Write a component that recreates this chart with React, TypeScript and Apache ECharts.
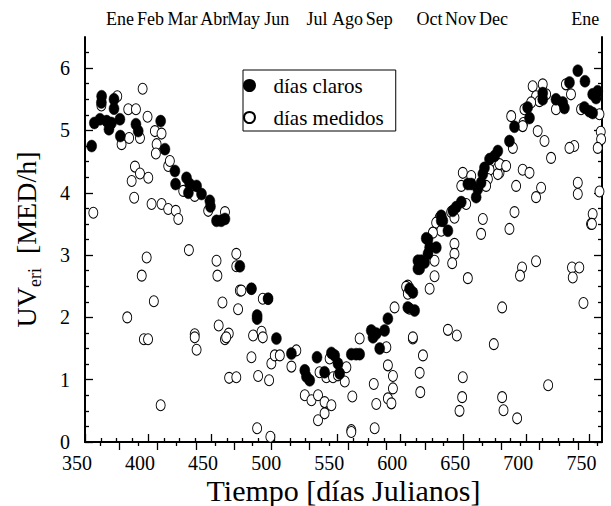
import React, { useEffect, useRef } from "react";
import * as echarts from "echarts";

// ---- data (Julian day, UV erythemal [MED/h]) ----
const clearSky: number[][] = [
  [355.3, 4.75], [357.4, 5.12], [361.9, 5.18], [363.2, 5.55], [363, 5.45], [367.2, 5.15], [369, 5.02],
  [371, 5.12], [373, 5.5], [373, 5.35], [377.7, 5.18], [378, 4.91], [390.4, 5.1], [392.2, 4.99],
  [410, 5.15], [413.4, 4.7], [421.3, 4.35], [421.8, 4.14], [430.5, 4.24], [433, 4.14], [432, 4.0],
  [438.5, 4.11], [442.4, 3.98], [449, 3.87], [449.5, 3.78], [454.3, 3.55], [458, 3.55], [461, 3.58],
  [472.8, 2.82], [482, 2.46], [495.2, 2.3], [486.5, 2.03], [486.5, 1.98], [501.8, 1.66], [513.7, 1.42],
  [524.3, 1.15], [525.6, 1.05], [528.2, 0.99], [534, 1.36], [540, 1.12], [545.4, 1.43], [548, 1.39],
  [550.6, 1.26], [552, 1.1], [561.2, 1.41], [565, 1.41], [567.8, 1.41], [577, 1.79], [578.4, 1.68],
  [581, 1.74], [587.6, 1.79], [583.7, 1.5], [590.2, 1.98], [607.4, 2.46], [610, 2.4], [606, 2.16],
  [611.4, 2.11], [614, 2.91], [614, 2.78], [615.4, 2.78], [616.7, 2.91], [619.3, 2.88], [622, 3.02],
  [622, 3.25], [623.3, 3.12], [628.6, 3.12], [620.6, 3.27], [632.5, 3.55], [637.8, 3.39], [632.5, 3.63],
  [633.8, 3.55], [641.7, 3.71], [644.4, 3.77], [648.4, 3.85], [653.6, 4.14], [656.3, 4.14], [660.2, 3.93],
  [661.5, 4.06], [664.1, 4.16], [665.5, 4.3], [666.8, 4.4], [670.8, 4.54], [674.8, 4.59], [677.4, 4.67],
  [686.6, 4.83], [690.6, 5.06], [701, 5.37], [702.5, 5.2], [713, 5.6], [713, 5.5], [723.5, 5.5],
  [728.8, 5.45], [730.2, 5.36], [734.2, 5.77], [740.8, 5.96], [746.5, 5.79], [746, 5.37], [750, 5.31],
  [752.6, 5.28], [755.3, 5.52], [756.6, 5.63], [752.6, 5.58],
];

const measured: number[][] = [
  [356.6, 3.68], [363, 5.4], [375.6, 5.55], [379, 4.78], [384.3, 5.34], [385, 4.88], [390.4, 5.34],
  [393.6, 4.88], [395.7, 5.67], [389.6, 4.42], [393.6, 4.31], [400.2, 4.24], [387, 4.19], [389, 3.92],
  [399.6, 5.22], [405.4, 4.99], [406.8, 4.78], [406.2, 4.63], [410.7, 4.95], [402.8, 3.82], [410.7, 3.82],
  [416, 3.74], [416, 4.43], [417.3, 4.51], [422, 3.71], [424, 3.58], [427.9, 4.03], [437, 3.95],
  [447.7, 3.71], [461, 3.69], [383.5, 2.0], [395, 2.67], [398.9, 2.96], [396.7, 1.65], [400, 1.65],
  [404.6, 2.26], [410, 0.59], [432.4, 3.08], [437, 1.73], [437, 1.68], [438.5, 1.48], [454.3, 2.91],
  [455, 2.67], [459, 2.24], [456, 1.87], [464, 1.74], [461, 1.65], [464.3, 1.03], [470, 1.04],
  [470, 3.02], [470, 2.82], [472.8, 2.43], [471.4, 2.13], [474, 2.43], [491, 2.3], [483.3, 1.71],
  [490, 1.77], [491, 1.68], [462, 1.68], [482, 1.36], [487.3, 1.06], [496, 0.99], [497.8, 1.26],
  [500.5, 1.39], [504.5, 1.39], [513.7, 1.21], [517.6, 1.47], [524.3, 0.75], [529.6, 0.67], [534.8, 0.75],
  [540, 0.64], [545.4, 0.59], [534.8, 0.35], [540, 0.46], [486.5, 0.22], [497, 0.085], [561.2, 0.19],
  [561.2, 0.16], [579.7, 0.22], [562, 0.73], [579, 0.93], [581, 0.61], [590.2, 0.7], [593, 0.62],
  [590.2, 1.23], [594.2, 1.06], [594.2, 0.86], [544, 1.34], [557.3, 1.2], [556, 0.97], [536, 1.12],
  [541.4, 1.04], [546.7, 1.04], [550.6, 1.07], [567.8, 1.66], [595.5, 2.16], [606, 2.51], [610, 1.66],
  [589, 1.52], [482, 2.46], [495.2, 2.3], [705, 5.71], [713, 5.74], [715.7, 5.58], [707.7, 5.55],
  [710.4, 5.47], [703.8, 5.45], [698.5, 5.34], [697.7, 5.12], [688, 5.23], [723.5, 5.34], [731.4, 5.74],
  [735.4, 5.58], [743.4, 5.34], [758, 5.26], [759, 4.98], [759.3, 4.86], [756.6, 4.72], [758, 4.02],
  [709, 4.99], [714.4, 4.83], [719.6, 4.56], [738, 4.75], [734.2, 4.72], [697.1, 5.07], [689.3, 4.72],
  [682.7, 4.43], [678.7, 4.32], [677.4, 4.4], [670.8, 4.37], [697.1, 4.37], [702.5, 4.32], [691.9, 4.11],
  [711.7, 4.08], [707.7, 3.93], [740.8, 4.16], [740.8, 3.98], [752.6, 3.66], [751.3, 3.5], [690.6, 3.69],
  [686.6, 3.42], [665.5, 3.58], [664.1, 3.34], [649.6, 4.32], [656.3, 4.27], [648.4, 4.11], [669.5, 4.22],
  [668.1, 4.11], [677.4, 4.3], [678.7, 4.46], [684, 4.43], [631.2, 3.6], [628.5, 3.52], [640.4, 3.69],
  [643, 3.6], [652.3, 3.82], [632.5, 3.39], [625.9, 3.36], [643, 3.18], [643, 3.02], [641.2, 2.87],
  [627.2, 2.91], [627.2, 2.66], [623.3, 2.46], [653.6, 2.63], [696.6, 2.8], [695, 2.67], [707.7, 2.9],
  [736.2, 2.8], [742, 2.8], [736.8, 2.64], [745.3, 2.23], [752, 3.5], [604.7, 2.49], [606, 2.38],
  [607.4, 2.14], [610, 1.68], [618, 1.39], [615.4, 1.11], [615.9, 0.8], [637.8, 1.8], [644.9, 1.71],
  [649.6, 1.04], [649.1, 0.72], [647, 0.5], [680.8, 2.16], [674.2, 1.57], [680.8, 0.72], [681.9, 0.51],
  [692.7, 0.38], [717.3, 0.91],
];

const xTickValues = [350, 400, 450, 500, 550, 600, 650, 700, 750];
const yTickValues = [0, 1, 2, 3, 4, 5, 6];
const monthNames = ["Ene", "Feb", "Mar", "Abr", "May", "Jun", "Jul", "Ago", "Sep", "Oct", "Nov", "Dec", "Ene"];
const monthLabelDays = [377.7, 401.9, 427.3, 452.5, 475.8, 502.1, 534, 558.1, 583.3, 623.3, 647.8, 674, 746.8];
const monthTickDays = [377, 407.5, 438, 468, 498, 528, 558.5, 589, 619.5, 650, 680, 710.5, 741];
const monthMidDays = [362, 392.5, 422.5, 453, 483, 513, 543.5, 574, 604, 634.5, 665, 695.5, 726, 756];

const X_MIN = 350;
const X_MAX = 760;
const Y_MIN = 0;
const Y_MAX = 6.5;

const minorValues = (lo: number, hi: number, step: number, major: number) => {
  const out: number[] = [];
  for (let v = lo + step; v < hi - 1e-9; v += step) {
    const r = v / major;
    if (Math.abs(r - Math.round(r)) > 1e-6) out.push(Number(v.toFixed(4)));
  }
  return out;
};

const FONT = "Liberation Serif";
const ELLIPSE = "path://M0,-1A1,1 0 1 1 0,1A1,1 0 1 1 0,-1Z";

export default function App() {
  const ref = useRef<HTMLDivElement>(null);

  useEffect(() => {
    const chart = echarts.init(ref.current!, null, { renderer: "svg" });
    const xMinor = minorValues(X_MIN, X_MAX, 12.5, 50);
    const yMinor = minorValues(Y_MIN, Y_MAX, 0.25, 1);
    const line = { lineStyle: { color: "#000", width: 2 } };
    const tickStyle = { color: "#000", width: 1.3 };
    const xBase = { type: "value", min: X_MIN, max: X_MAX, splitLine: { show: false } };
    const yBase = { type: "value", min: Y_MIN, max: Y_MAX, splitLine: { show: false } };

    chart.setOption({
      animation: false,
      backgroundColor: "#fff",
      textStyle: { fontFamily: FONT },
      grid: { left: 85, right: 9, top: 37, bottom: 64, outerBoundsMode: "none" },
      legend: {
        orient: "vertical",
        left: 243,
        top: 70,
        data: [
          { name: "días claros", icon: "circle" },
          { name: "días medidos", icon: "circle" },
        ],
        itemWidth: 30,
        itemHeight: 11,
        itemGap: 11,
        borderColor: "#000",
        borderWidth: 1,
        padding: [5, 12, 3, 0],
        textStyle: { fontFamily: FONT, fontSize: 21, color: "#000", padding: [0, 0, 0, 4], lineHeight: 21 },
      },
      xAxis: [
        {
          ...xBase,
          position: "bottom",
          axisLine: line,
          axisTick: { inside: true, length: 8, customValues: xTickValues, lineStyle: tickStyle },
          axisLabel: {
            customValues: xTickValues,
            color: "#000",
            fontSize: 20,
            fontFamily: FONT,
            margin: 11,
            padding: [0, 16, 0, 0],
          },
          name: "Tiempo [días Julianos]",
          nameLocation: "middle",
          nameGap: 33,
          nameMoveOverlap: false,
          nameTextStyle: { color: "#000", fontSize: 30, fontFamily: FONT },
        },
        {
          ...xBase,
          position: "bottom",
          axisLine: { show: false },
          axisTick: { inside: true, length: 4, customValues: xMinor, lineStyle: tickStyle },
          axisLabel: { show: false },
        },
        {
          ...xBase,
          position: "top",
          axisLine: line,
          axisTick: { inside: true, length: 8, customValues: monthTickDays, lineStyle: tickStyle },
          axisLabel: {
            customValues: monthLabelDays,
            color: "#000",
            fontSize: 18,
            fontFamily: FONT,
            margin: 9,
            formatter: (v: number) => {
              const i = monthLabelDays.findIndex((d) => Math.abs(d - v) < 0.01);
              return i >= 0 ? monthNames[i] : "";
            },
          },
        },
        {
          ...xBase,
          position: "top",
          axisLine: { show: false },
          axisTick: { inside: true, length: 4, customValues: monthMidDays, lineStyle: tickStyle },
          axisLabel: { show: false },
        },
      ],
      yAxis: [
        {
          ...yBase,
          position: "left",
          axisLine: line,
          axisTick: { inside: true, length: 8, customValues: yTickValues, lineStyle: tickStyle },
          axisLabel: { customValues: yTickValues, color: "#000", fontSize: 20, fontFamily: FONT, margin: 15 },
          name: "{a|UV}{b|eri}{a|  [MED/h]}",
          nameLocation: "middle",
          nameGap: 44,
          nameMoveOverlap: false,
          nameTextStyle: {
            color: "#000",
            fontFamily: FONT,
            rich: {
              a: { fontSize: 28, fontFamily: FONT, color: "#000", lineHeight: 29, verticalAlign: "top" },
              b: { fontSize: 18, fontFamily: FONT, color: "#000", lineHeight: 18, padding: [14, 0, 0, 0], verticalAlign: "top" },
            },
          },
        },
        {
          ...yBase,
          position: "left",
          axisLine: { show: false },
          axisTick: { inside: true, length: 4, customValues: yMinor, lineStyle: tickStyle },
          axisLabel: { show: false },
        },
        {
          ...yBase,
          position: "right",
          axisLine: line,
          axisTick: { inside: true, length: 8, customValues: yTickValues, lineStyle: tickStyle },
          axisLabel: { show: false },
        },
        {
          ...yBase,
          position: "right",
          axisLine: { show: false },
          axisTick: { inside: true, length: 4, customValues: yMinor, lineStyle: tickStyle },
          axisLabel: { show: false },
        },
      ],
      series: [
        {
          name: "días medidos",
          type: "scatter",
          xAxisIndex: 0,
          yAxisIndex: 0,
          data: measured,
          symbol: ELLIPSE,
          symbolSize: [9, 11],
          itemStyle: { color: "#fff", borderColor: "#000", borderWidth: 1, opacity: 1 },
          z: 2,
          clip: false,
        },
        {
          name: "días claros",
          type: "scatter",
          xAxisIndex: 0,
          yAxisIndex: 0,
          data: clearSky,
          symbol: ELLIPSE,
          symbolSize: [10, 12],
          itemStyle: { color: "#000", borderColor: "#000", borderWidth: 0.5, opacity: 1 },
          z: 3,
          clip: false,
        },
      ],
    });
    return () => chart.dispose();
  }, []);

  return (
    <div
      ref={ref}
      style={{ position: "fixed", left: 0, top: 0, width: 611, height: 506, background: "#fff" }}
    />
  );
}
